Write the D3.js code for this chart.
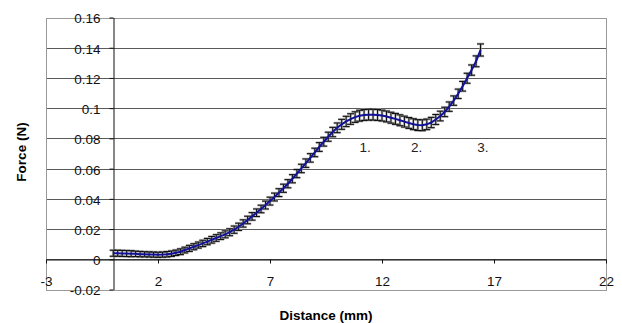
<!DOCTYPE html>
<html>
<head>
<meta charset="utf-8">
<script src="https://cdn.jsdelivr.net/npm/d3@7"></script>
<style>
body { margin: 0; background: #fff; }
text { font-family: "Liberation Sans", Arial, sans-serif; }
</style>
</head>
<body>
<svg id="chart" width="622" height="323"></svg>
<script>
// distance (mm) of each reading
var distance = [0.0, 0.2, 0.4, 0.6, 0.8, 1.0, 1.2, 1.4, 1.6, 1.8,
	2.0, 2.2, 2.4, 2.6, 2.8, 3.0, 3.2, 3.4, 3.6, 3.8,
	4.0, 4.2, 4.4, 4.6, 4.8, 5.0, 5.2, 5.4, 5.6, 5.8,
	6.0, 6.2, 6.4, 6.6, 6.8, 7.0, 7.2, 7.4, 7.6, 7.8,
	8.0, 8.2, 8.4, 8.6, 8.8, 9.0, 9.2, 9.4, 9.6, 9.8,
	10.0, 10.2, 10.4, 10.6, 10.8, 11.0, 11.2, 11.4, 11.6, 11.8,
	12.0, 12.2, 12.4, 12.6, 12.8, 13.0, 13.2, 13.4, 13.6, 13.8,
	14.0, 14.2, 14.4, 14.6, 14.8, 15.0, 15.2, 15.4, 15.6, 15.8,
	16.0, 16.2, 16.4];

// mean force (N)
var force = [0.0040, 0.0040, 0.0039, 0.0038, 0.0037, 0.0036, 0.0034, 0.0033, 0.0032, 0.0031,
	0.0030, 0.0031, 0.0033, 0.0037, 0.0043, 0.0050, 0.0061, 0.0072, 0.0083, 0.0094,
	0.0105, 0.0117, 0.0129, 0.0141, 0.0153, 0.0165, 0.0179, 0.0196, 0.0215, 0.0237,
	0.0260, 0.0284, 0.0308, 0.0333, 0.0359, 0.0385, 0.0412, 0.0441, 0.0470, 0.0500,
	0.0533, 0.0567, 0.0601, 0.0636, 0.0671, 0.0707, 0.0743, 0.0778, 0.0811, 0.0842,
	0.0870, 0.0893, 0.0912, 0.0928, 0.0941, 0.0950, 0.0955, 0.0957, 0.0957, 0.0955,
	0.0951, 0.0945, 0.0937, 0.0929, 0.0920, 0.0911, 0.0902, 0.0894, 0.0888, 0.0887,
	0.0893, 0.0905, 0.0925, 0.0948, 0.0975, 0.1010, 0.1050, 0.1095, 0.1145, 0.1198,
	0.1252, 0.1310, 0.1385];

// error (+/- N)
var error = [0.0020, 0.0020, 0.0020, 0.0020, 0.0020, 0.0018, 0.0018, 0.0017, 0.0017, 0.0017,
	0.0017, 0.0017, 0.0018, 0.0018, 0.0018, 0.0019, 0.0019, 0.0020, 0.0020, 0.0020,
	0.0021, 0.0021, 0.0022, 0.0022, 0.0022, 0.0023, 0.0023, 0.0024, 0.0024, 0.0024,
	0.0025, 0.0025, 0.0025, 0.0025, 0.0026, 0.0026, 0.0026, 0.0026, 0.0027, 0.0027,
	0.0027, 0.0027, 0.0028, 0.0028, 0.0028, 0.0028, 0.0029, 0.0029, 0.0030, 0.0031,
	0.0032, 0.0033, 0.0034, 0.0035, 0.0035, 0.0036, 0.0036, 0.0036, 0.0036, 0.0036,
	0.0036, 0.0036, 0.0036, 0.0036, 0.0036, 0.0036, 0.0036, 0.0036, 0.0036, 0.0036,
	0.0035, 0.0034, 0.0033, 0.0032, 0.0031, 0.0031, 0.0031, 0.0031, 0.0032, 0.0033,
	0.0034, 0.0036, 0.0040];

var xTicks = [-3, 2, 7, 12, 17, 22];
var xTickLabels = ["-3", "2", "7", "12", "17", "22"];
var yTicks = [0.16, 0.14, 0.12, 0.1, 0.08, 0.06, 0.04, 0.02, 0, -0.02];
var yTickLabels = ["0.16", "0.14", "0.12", "0.1", "0.08", "0.06", "0.04", "0.02", "0", "-0.02"];

var notes = ["1.", "2.", "3."];
var noteX = [11.25, 13.55, 16.5];
var noteY = [0.074, 0.074, 0.074];

var svg = d3.select("#chart");
var x = d3.scaleLinear().domain([-3, 22]).range([46, 606]);
var y = d3.scaleLinear().domain([-0.02, 0.16]).range([289.5, 17.5]);

// gridlines
svg.append("g").selectAll("line").data(yTicks.slice(1, -1)).enter().append("line")
	.attr("x1", x(-3)).attr("x2", x(22))
	.attr("y1", function(d) { return Math.round(y(d)) + 0.5; })
	.attr("y2", function(d) { return Math.round(y(d)) + 0.5; })
	.attr("stroke", "#5a5a5a").attr("stroke-width", 1);

// plot area border
svg.append("rect")
	.attr("x", x(-3) + 0.5).attr("y", Math.round(y(0.16)) + 0.5)
	.attr("width", x(22) - x(-3)).attr("height", Math.round(y(-0.02)) - Math.round(y(0.16)))
	.attr("fill", "none").attr("stroke", "#9a9a9a");

// axes
var xAxis = d3.axisBottom(x).tickValues(xTicks)
	.tickFormat(function(d, i) { return xTickLabels[i]; })
	.tickSize(4).tickSizeOuter(0).tickPadding(13);
var gx = svg.append("g").attr("transform", "translate(0," + (Math.round(y(0)) + 0.5) + ")").call(xAxis);

var yAxis = d3.axisLeft(y).tickValues(yTicks)
	.tickFormat(function(d, i) { return yTickLabels[i]; })
	.tickSize(4).tickSizeOuter(0).tickPadding(9);
var gy = svg.append("g").attr("transform", "translate(" + (Math.round(x(0)) + 0.5) + ",0)").call(yAxis);

[gx, gy].forEach(function(g) {
	g.selectAll("path, line").attr("stroke", "#111");
	g.selectAll("text").attr("font-size", "13.5px").attr("fill", "#111")
		.attr("font-family", "'Liberation Sans', Arial, sans-serif");
});
gy.selectAll("text").attr("dy", "0.40em");

// error bars: a soft grey halo under each black bar
var pts = d3.range(distance.length);
function drawBars(g, cls, half) {
	g.selectAll("line." + cls + "v").data(pts).enter().append("line").attr("class", cls + "v")
		.attr("x1", function(i) { return x(distance[i]); })
		.attr("x2", function(i) { return x(distance[i]); })
		.attr("y1", function(i) { return y(force[i] + error[i]); })
		.attr("y2", function(i) { return y(force[i] - error[i]); });
	[1, -1].forEach(function(s, k) {
		g.selectAll("line." + cls + k).data(pts).enter().append("line").attr("class", cls + k)
			.attr("x1", function(i) { return x(distance[i]) - half; })
			.attr("x2", function(i) { return x(distance[i]) + half; })
			.attr("y1", function(i) { return y(force[i] + s * error[i]); })
			.attr("y2", function(i) { return y(force[i] + s * error[i]); });
	});
}
var halo = svg.append("g").attr("stroke", "#a8a8a8").attr("stroke-width", 2.6).attr("opacity", 0.7);
drawBars(halo, "h", 3.5);
var eb = svg.append("g").attr("stroke", "#111").attr("stroke-width", 1.1);
drawBars(eb, "e", 3.5);

// mean line
var line = d3.line()
	.x(function(i) { return x(distance[i]); })
	.y(function(i) { return y(force[i]); });
svg.append("path").datum(pts).attr("d", line)
	.attr("fill", "none").attr("stroke", "#10109a").attr("stroke-width", 2);

// point labels
svg.append("g").selectAll("text").data(notes).enter().append("text")
	.attr("x", function(d, i) { return x(noteX[i]); })
	.attr("y", function(d, i) { return y(noteY[i]); })
	.attr("dy", "0.35em").attr("text-anchor", "middle")
	.attr("font-size", "13.5px").attr("fill", "#222")
	.text(function(d) { return d; });

// axis titles
svg.append("text").attr("x", 326).attr("y", 320)
	.attr("text-anchor", "middle").attr("font-size", "13.5px").attr("font-weight", "bold")
	.text("Distance (mm)");
svg.append("text").attr("transform", "translate(26,152) rotate(-90)")
	.attr("text-anchor", "middle").attr("font-size", "13.5px").attr("font-weight", "bold")
	.text("Force (N)");
</script>
</body>
</html>
